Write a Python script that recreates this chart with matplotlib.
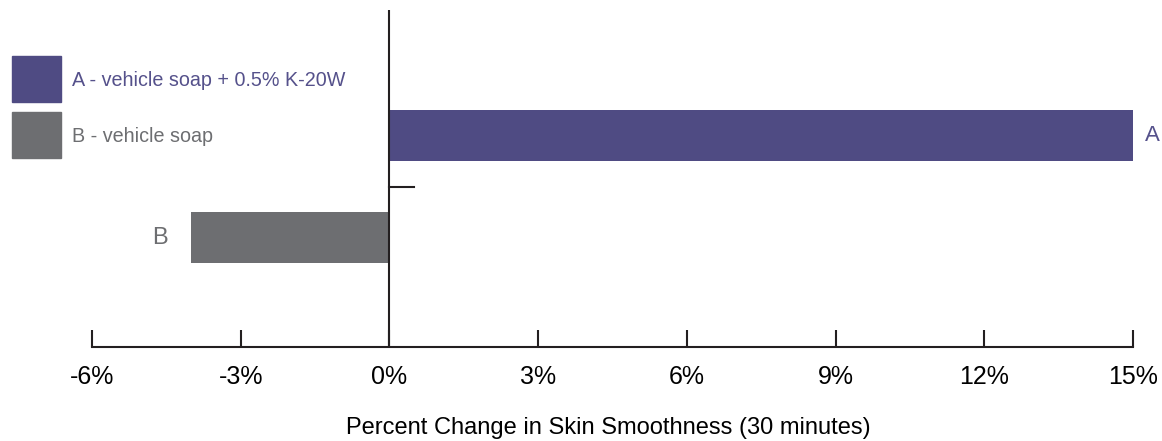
import numpy as np
import matplotlib.pyplot as plt
from matplotlib.patches import Rectangle

plt.rcParams["font.family"] = ["Liberation Sans", "DejaVu Sans"]

# data
groups = ["A", "B"]
values = [15.0, -4.0]
legend_labels = ["A - vehicle soap + 0.5% K-20W", "B - vehicle soap"]
xticks = [-6, -3, 0, 3, 6, 9, 12, 15]

purple = "#4F4B83"
gray = "#6D6E71"
colors = [purple, gray]
text_colors = ["#55518B", "#6D6E71"]

W, H = 1162, 441
figure = plt.figure(figsize=(W / 100, H / 100), dpi=100)
ax = figure.add_axes([92 / W, 94 / H, (1133 - 92) / W, 337 / H])

ypos = [1, 0]
ax.barh(ypos, values, height=0.5, color=colors)

# value letters next to bar ends
ax.text(values[0] + 0.25, ypos[0], groups[0], color=text_colors[0], fontsize=16, va="center", ha="left", clip_on=False)
ax.text(values[1] - 0.48, ypos[1], groups[1], color=text_colors[1], fontsize=17, va="center", ha="right")

# zero line and little tick
ax.axvline(0, color="#231F20", linewidth=1.5)
ax.plot([0, 0.5], [0.5, 0.5], color="#231F20", linewidth=1.5)

ax.set_xlim(-6, 15)
ax.set_ylim(-1.07, 2.23)
ax.set_yticks([])
ax.set_xticks(xticks)
ax.set_xticklabels([f"{t}%" for t in xticks], fontsize=18)
ax.tick_params(axis="x", direction="in", length=12, width=1.5, pad=13, color="#231F20")
for s in ["top", "right", "left"]:
    ax.spines[s].set_visible(False)
ax.spines["bottom"].set_linewidth(1.5)
ax.spines["bottom"].set_color("#231F20")

figure.text(608 / W, 1 - 428 / H, "Percent Change in Skin Smoothness (30 minutes)",
            fontsize=17, ha="center", va="center")

# legend boxes drawn by hand (pixel layout of the original)
box_tops = [56, 112]
for top, c, lab, tc in zip(box_tops, colors, legend_labels, text_colors):
    figure.add_artist(Rectangle((12 / W, 1 - (top + 46) / H), 49 / W, 46 / H,
                                transform=figure.transFigure, color=c))
    figure.text(72 / W, 1 - (top + 25) / H, lab, color=tc, fontsize=14.2, va="center", ha="left")

figure.savefig("out.png", dpi=100)
